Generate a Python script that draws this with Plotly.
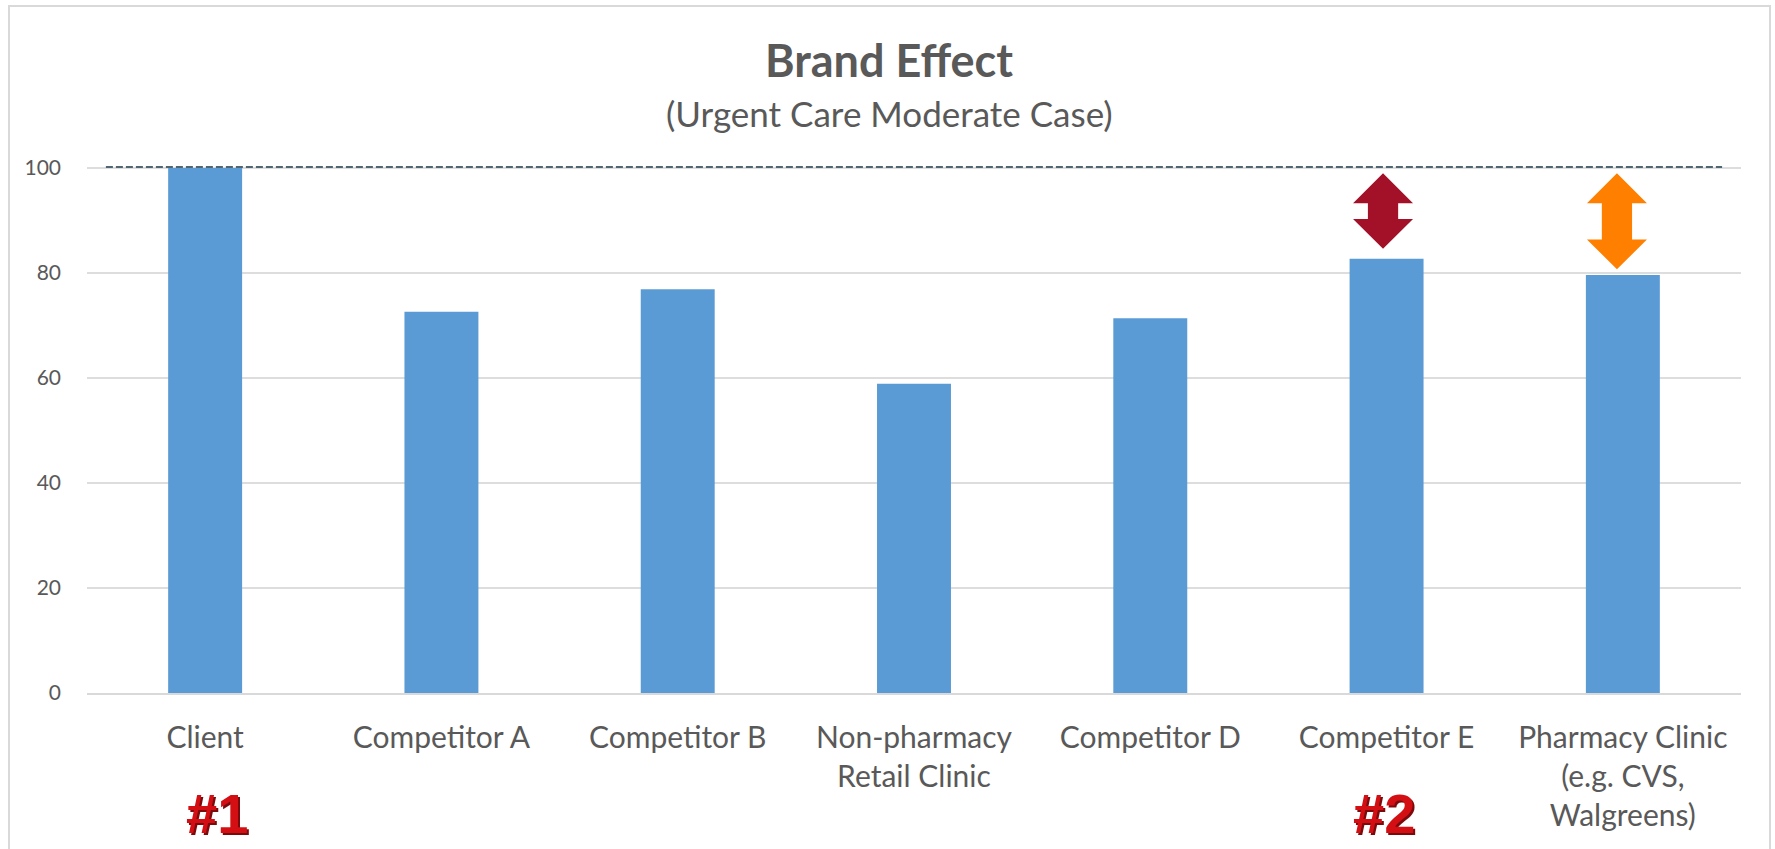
import plotly.graph_objects as go

categories = ["Client", "Competitor A", "Competitor B", "Non-pharmacy<br>Retail Clinic",
              "Competitor D", "Competitor E", "Pharmacy Clinic<br>(e.g. CVS,<br>Walgreens)"]
values = [100, 72.6, 76.9, 58.9, 71.4, 82.7, 79.6]
y_ticks = [0, 20, 40, 60, 80, 100]
benchmark = 100.2
benchmark_x = [-0.42, 6.42]
arrow_names = ["Competitor E gap", "Pharmacy gap"]
arrow_x = [4.985, 5.975]
arrow_top = [99.0, 99.0]
arrow_bottom = [84.6, 80.7]
arrow_colors = ["#A31129", "#FF8000"]
badge_labels = ["#1", "#2"]
badge_x = [0.05, 4.99]

W, H = 1775, 849
L, R, T, B = 87, 34, 165, 156
TEXT = "#595959"
FONT = "Lato"
y_max = 100.57

fig = go.Figure()
fig.add_bar(x=list(range(7)), y=values, marker=dict(color="#5B9BD5", line=dict(width=0)),
            width=0.313, showlegend=False)
fig.add_scatter(x=benchmark_x, y=[benchmark, benchmark], mode="lines", cliponaxis=False,
                line=dict(color="#4F6672", width=2, dash="7px,3px"), showlegend=False)


def arrow(xc, top, bottom):
    hw, sw, head = 0.127, 0.064, 5.7
    xs = [xc, xc + hw, xc + sw, xc + sw, xc + hw, xc, xc - hw, xc - sw, xc - sw, xc - hw, xc]
    ys = [top, top - head, top - head, bottom + head, bottom + head, bottom,
          bottom + head, bottom + head, top - head, top - head, top]
    return xs, ys


for name, xc, t, b, c in zip(arrow_names, arrow_x, arrow_top, arrow_bottom, arrow_colors):
    xs, ys = arrow(xc, t, b)
    fig.add_scatter(x=xs, y=ys, mode="lines", fill="toself", fillcolor=c, name=name,
                    line=dict(width=0, color=c), showlegend=False, cliponaxis=False)

fig.add_annotation(text="<b>Brand Effect</b>", xref="paper", yref="paper",
                   x=(889 - L) / (W - L - R), y=1 + (T - 60) / (H - T - B), showarrow=False,
                   yanchor="middle", font=dict(family=FONT, size=45, color=TEXT))
fig.add_annotation(text="(Urgent Care Moderate Case)", xref="paper", yref="paper",
                   x=(889 - L) / (W - L - R), y=1 + (T - 113) / (H - T - B), showarrow=False,
                   yanchor="middle", font=dict(family=FONT, size=35, color=TEXT))

for lab, bx in zip(badge_labels, badge_x):
    fig.add_annotation(text="<b>" + lab + "</b>", x=bx, xref="x", yref="paper",
                       y=-(813 - (H - B)) / (H - T - B), showarrow=False, yanchor="middle",
                       font=dict(family="Liberation Sans", size=56, color="#D40F14",
                                 shadow="2px 2px 0px #7A0A0C"))

fig.add_shape(type="rect", xref="paper", yref="paper",
              x0=(9 - L) / (W - L - R), x1=(1770 - L) / (W - L - R),
              y0=-0.6, y1=1 + (T - 6) / (H - T - B),
              line=dict(color="#D9D9D9", width=2), layer="below")

fig.update_layout(
    width=W, height=H, autosize=False,
    margin=dict(l=L, r=R, t=T, b=B),
    paper_bgcolor="white", plot_bgcolor="white",
    xaxis=dict(range=[-0.5, 6.5], tickmode="array", tickvals=list(range(7)), ticktext=categories,
               showgrid=False, zeroline=False, showline=True, linecolor="#D9D9D9", linewidth=2,
               ticks="", ticklabelstandoff=17,
               tickfont=dict(family=FONT, size=30, color=TEXT)),
    yaxis=dict(range=[0, y_max], tickmode="array", tickvals=y_ticks, showgrid=True,
               gridcolor="#DDDDDD", gridwidth=2, zeroline=False, ticks="", ticklabelstandoff=25,
               tickfont=dict(family=FONT, size=21, color=TEXT)),
)

fig.write_html("out.html", config={"displayModeBar": False},
               post_script="document.body.style.margin='0';")
